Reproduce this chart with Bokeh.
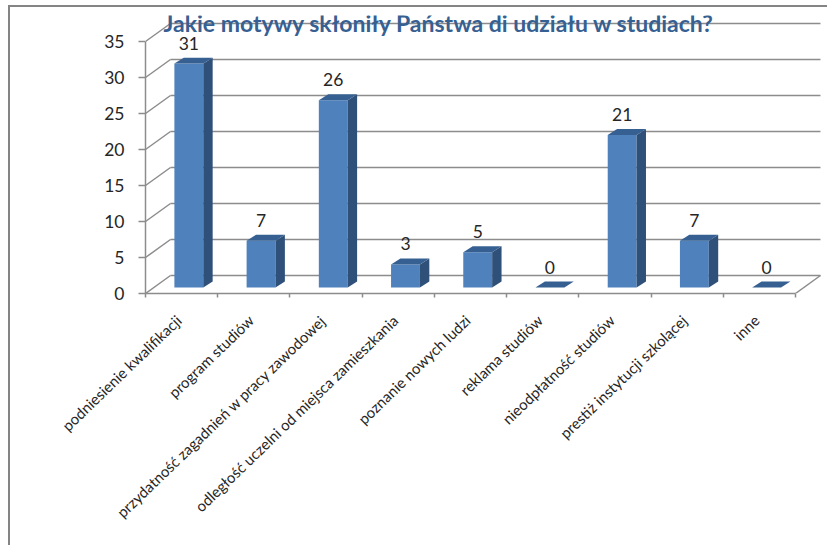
from bokeh.plotting import figure
from bokeh.models import FixedTicker, Range1d, Label, ColumnDataSource
from bokeh.core.properties import value
from bokeh.embed import file_html
from bokeh.resources import INLINE
import math

title_text = "Jakie motywy skłoniły Państwa di udziału w studiach?"
categories = ["podniesienie kwalifikacji", "program studiów", "przydatność zagadnień w pracy zawodowej",
              "odległość uczelni od miejsca zamieszkania", "poznanie nowych ludzi", "reklama studiów",
              "nieodpłatność studiów", "prestiż instytucji szkolącej", "inne"]
heights = [31.1, 6.5, 26.0, 3.2, 4.9, 0, 21.2, 6.5, 0]
value_labels = ["31", "7", "26", "3", "5", "0", "21", "7", "0"]
y_ticks = [0, 5, 10, 15, 20, 25, 30, 35]

FRONT, SIDE, TOP = "#4F81BD", "#2F5179", "#376092"
GRID = "#8C8C8C"
FONT = "Lato"
# 3D construction, in data units
WALL_DX, WALL_DY = 0.346, 2.5
BAR_L, BAR_R = 0.40, 0.80
BAR_DX, BAR_DY = 0.13, 0.83
BAR_BASE = 0.83

p = figure(width=819, height=540, output_backend="svg", toolbar_location=None,
           x_range=Range1d(0, 680 / 72.22), y_range=Range1d(0, 278 / 7.2),
           min_border_left=135, min_border_right=4, min_border_top=8, min_border_bottom=254,
           outline_line_color=None, background_fill_color="white", border_fill_color="white")
p.styles = {"position": "absolute", "left": "8px", "top": "5px",
            "border-left": "2px solid #848484", "border-top": "2px solid #848484"}
p.grid.visible = False

p.add_layout(Label(x=0.25, y=37.62, text=title_text, text_font=FONT, text_font_size="23px",
                   text_font_style="bold", text_color="#376092", text_baseline="alphabetic"))

n = len(categories)
# walls
p.multi_line([[WALL_DX, n + WALL_DX] for t in y_ticks], [[t + WALL_DY, t + WALL_DY] for t in y_ticks],
             line_color=GRID, line_width=1.5)
p.multi_line([[0, WALL_DX] for t in y_ticks], [[t, t + WALL_DY] for t in y_ticks],
             line_color=GRID, line_width=1.5)
p.line([n, n + WALL_DX], [0, WALL_DY], line_color=GRID, line_width=1.5)

# bars
idx = list(range(n))
front = ColumnDataSource(dict(
    left=[i + BAR_L for i in idx], right=[i + BAR_R for i in idx],
    bottom=[BAR_BASE] * n, top=[BAR_BASE + h for h in heights]))
p.quad(source=front, left="left", right="right", bottom="bottom", top="top", fill_color=FRONT, line_color=None)
p.patches([[i + BAR_R, i + BAR_R + BAR_DX, i + BAR_R + BAR_DX, i + BAR_R] for i in idx],
          [[BAR_BASE, BAR_BASE + BAR_DY, BAR_BASE + BAR_DY + h, BAR_BASE + h] for h in heights],
          fill_color=SIDE, line_color=None)
p.patches([[i + BAR_L, i + BAR_R, i + BAR_R + BAR_DX, i + BAR_L + BAR_DX] for i in idx],
          [[BAR_BASE + h, BAR_BASE + h, BAR_BASE + h + BAR_DY, BAR_BASE + h + BAR_DY] for h in heights],
          fill_color=TOP, line_color=None)

# data labels
p.text([i + (BAR_L + BAR_R) / 2 for i in idx], [BAR_BASE + h + 2.85 for h in heights], text=value_labels,
       text_font=value(FONT), text_font_size="17.5px", text_color="#262626",
       text_align="center", text_baseline="middle")

# axes
ya = p.yaxis[0]
ya.ticker = FixedTicker(ticks=y_ticks)
ya.bounds = (0, 35)
ya.axis_line_color = GRID
ya.axis_line_width = 1.5
ya.major_tick_line_color = GRID
ya.major_tick_line_width = 1.5
ya.major_tick_out = 7
ya.major_tick_in = 0
ya.minor_tick_out = 0
ya.minor_tick_in = 0
ya.major_label_standoff = 14
ya.major_label_text_font = FONT
ya.major_label_text_font_size = "17.5px"
ya.major_label_text_color = "#262626"

xa = p.xaxis[0]
label_pos = [i + 0.46 for i in idx]
xa.ticker = FixedTicker(ticks=label_pos, minor_ticks=list(range(n + 1)))
xa.major_label_overrides = {pos: c for pos, c in zip(label_pos, categories)}
xa.major_label_orientation = math.radians(44)
xa.bounds = (0, n)
xa.axis_line_color = GRID
xa.axis_line_width = 1.5
xa.major_tick_out = 0
xa.major_tick_in = 0
xa.minor_tick_line_color = GRID
xa.minor_tick_line_width = 1.5
xa.minor_tick_out = 4
xa.minor_tick_in = 0
xa.major_label_standoff = 20
xa.major_label_text_font = FONT
xa.major_label_text_font_size = "15px"
xa.major_label_text_color = "#262626"

open("out.html", "w").write(file_html(p, INLINE))
